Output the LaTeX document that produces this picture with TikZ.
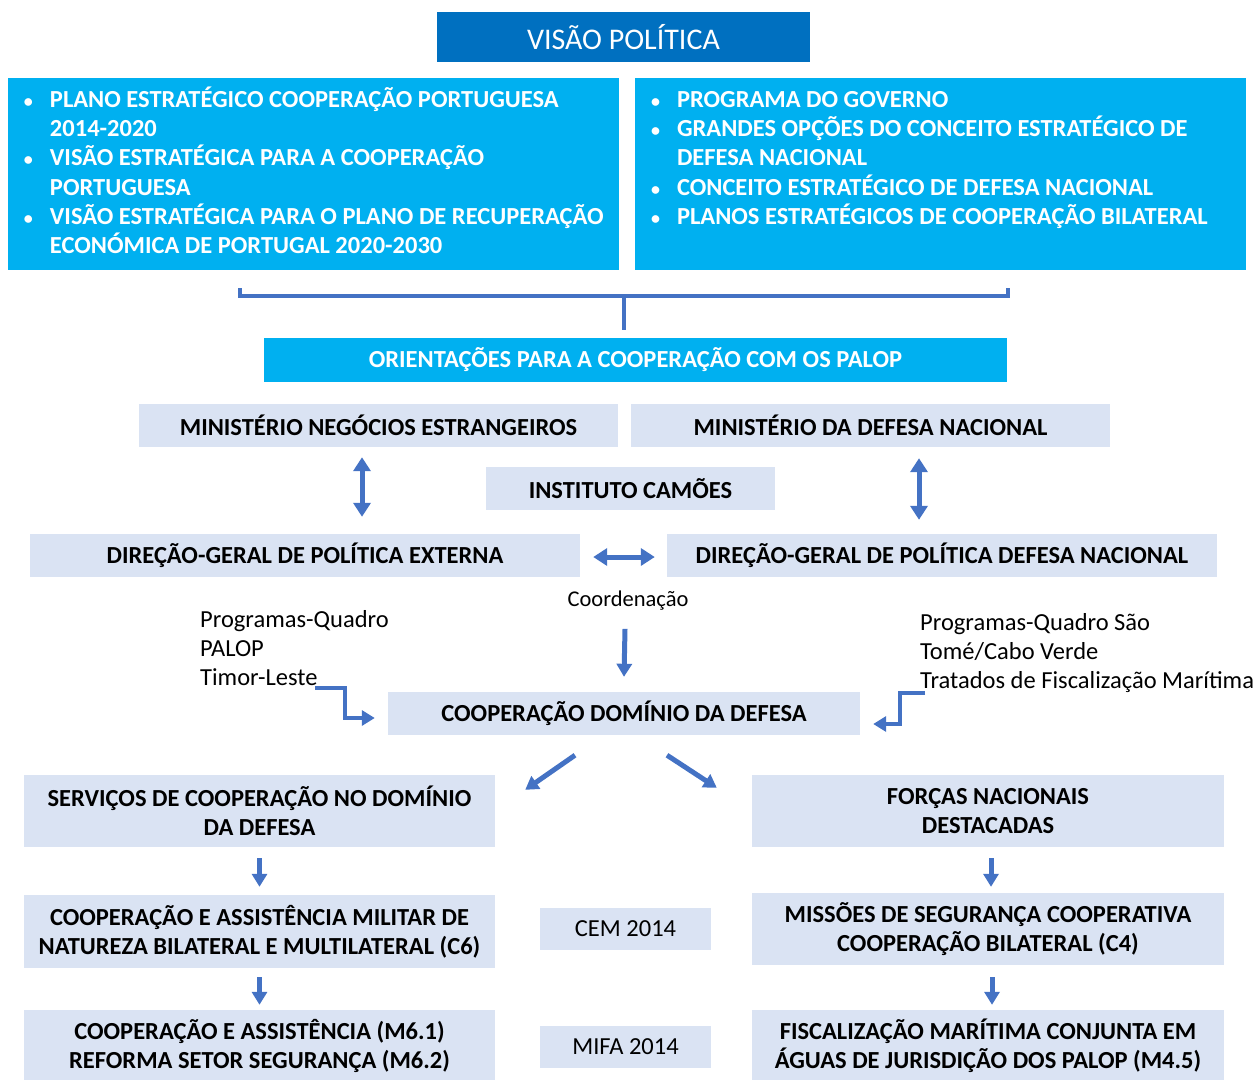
\documentclass[tikz,border=0pt]{standalone}
\usepackage{fontspec}
\setmainfont{Carlito}
\usepackage{tikz}
\usetikzlibrary{arrows.meta, positioning, calc}

\definecolor{visaoblue}{HTML}{0070C0}
\definecolor{planocyan}{HTML}{00B0F0}
\definecolor{orgfill}{HTML}{DAE3F3}
\definecolor{linkblue}{HTML}{4472C4}

\newcommand{\bitem}{\par\noindent\hangindent=27pt\hangafter=1\makebox[27pt][l]{\hspace{1pt}\fontsize{18}{18}\selectfont\textbullet}\strut}

\begin{document}
\begin{tikzpicture}[x=1pt, y=-1pt,
    visaobox/.style={fill=visaoblue, text=white, inner sep=0, font=\fontsize{30}{36}\selectfont},
    planobox/.style={fill=planocyan, text=white, inner sep=0, font=\bfseries\fontsize{24.5}{29.2}\selectfont},
    orgbox/.style={fill=orgfill, inner sep=0, align=center, font=\bfseries\fontsize{24.5}{29}\selectfont},
    yearbox/.style={fill=orgfill, inner sep=0, font=\fontsize{24.5}{29}\selectfont},
    note/.style={inner sep=0, align=left, font=\fontsize{24.5}{29}\selectfont},
    link/.style={draw=linkblue, line width=5pt, -{Triangle[length=13pt,width=15pt]}},
    twoway/.style={draw=linkblue, line width=5pt, {Triangle[length=14pt,width=17pt]}-{Triangle[length=14pt,width=17pt]}},
    brace/.style={draw=linkblue, line width=4.5pt}]
  \useasboundingbox (0,0) rectangle (1257,1079);

  \node[visaobox, minimum width=373, minimum height=50] (visao) at (623.5,37) {VISÃO POLÍTICA};

  \node[planobox, minimum width=611, minimum height=192] (plano) at (313.5,174) {\parbox[c][174pt][t]{581pt}{\raggedright\lineskiplimit=-20pt
      \bitem PLANO ESTRATÉGICO COOPERAÇÃO PORTUGUESA\newline 2014-2020
      \bitem VISÃO ESTRATÉGICA PARA A COOPERAÇÃO\newline PORTUGUESA
      \bitem VISÃO ESTRATÉGICA PARA O PLANO DE RECUPERAÇÃO\newline ECONÓMICA DE PORTUGAL 2020-2030}};
  \node[planobox, minimum width=611, minimum height=192] (governo) at (940.5,174) {\parbox[c][174pt][t]{581pt}{\raggedright\lineskiplimit=-20pt
      \bitem PROGRAMA DO GOVERNO
      \bitem GRANDES OPÇÕES DO CONCEITO ESTRATÉGICO DE\newline DEFESA NACIONAL
      \bitem CONCEITO ESTRATÉGICO DE DEFESA NACIONAL
      \bitem PLANOS ESTRATÉGICOS DE COOPERAÇÃO BILATERAL}};

  \node[planobox, minimum width=743, minimum height=44] (orient) at (635.5,360) {ORIENTAÇÕES PARA A COOPERAÇÃO COM OS PALOP};

  \node[orgbox, minimum width=479, minimum height=43] (mne) at (378.5,425.5) {MINISTÉRIO NEGÓCIOS ESTRANGEIROS};
  \node[orgbox, minimum width=479, minimum height=43] (mdn) at (870.5,425.5) {MINISTÉRIO DA DEFESA NACIONAL};
  \node[orgbox, minimum width=289, minimum height=43] (camoes) at (630.5,488.5) {INSTITUTO CAMÕES};
  \node[orgbox, minimum width=550, minimum height=43] (dgpe) at (305,555.5) {DIREÇÃO-GERAL DE POLÍTICA EXTERNA};
  \node[orgbox, minimum width=550, minimum height=43] (dgpdn) at (942,555.5) {DIREÇÃO-GERAL DE POLÍTICA DEFESA NACIONAL};

  \node[note, font=\fontsize{22.5}{27}\selectfont] (coord) at (628,601) {Coordenação};
  \node[note, anchor=north west] (pqleft) at (200,610) {Programas-Quadro\\PALOP\\Timor-Leste};
  \node[note, anchor=north west] (pqright) at (920,613) {Programas-Quadro São\\Tomé/Cabo Verde\\Tratados de Fiscalização Marítima};

  \node[orgbox, minimum width=472, minimum height=43] (coop) at (624,713.5) {COOPERAÇÃO DOMÍNIO DA DEFESA};

  \node[orgbox, minimum width=471, minimum height=72] (servicos) at (259.5,811) {SERVIÇOS DE COOPERAÇÃO NO DOMÍNIO\\DA DEFESA};
  \node[orgbox, minimum width=472, minimum height=72] (forcas) at (988,811) {FORÇAS NACIONAIS\\DESTACADAS};
  \node[orgbox, minimum width=471, minimum height=73] (militar) at (259.5,931.5) {COOPERAÇÃO E ASSISTÊNCIA MILITAR DE\\NATUREZA BILATERAL E MULTILATERAL (C6)};
  \node[orgbox, minimum width=472, minimum height=72] (missoes) at (988,929) {MISSÕES DE SEGURANÇA COOPERATIVA\\COOPERAÇÃO BILATERAL (C4)};
  \node[orgbox, minimum width=471, minimum height=72] (reforma) at (259.5,1046) {COOPERAÇÃO E ASSISTÊNCIA (M6.1)\\REFORMA SETOR SEGURANÇA (M6.2)};
  \node[orgbox, minimum width=472, minimum height=72] (fiscal) at (988,1046) {FISCALIZAÇÃO MARÍTIMA CONJUNTA EM\\ÁGUAS DE JURISDIÇÃO DOS PALOP (M4.5)};
  \node[yearbox, minimum width=171, minimum height=42] (cem) at (625.5,929) {CEM 2014};
  \node[yearbox, minimum width=171, minimum height=42] (mifa) at (625.5,1047) {MIFA 2014};

  % chaveta sob as duas caixas
  \coordinate (bracemid) at (624,296);
  \draw[brace] (240,288) -- (240,296) -- (1008,296) -- (1008,288);
  \draw[brace] (bracemid) -- ($(orient.north -| bracemid)+(0,-8)$);

  \draw[twoway] ([xshift=-16.5pt,yshift=-10pt]mne.south) -- ([xshift=57pt,yshift=17pt]dgpe.north);
  \draw[twoway] ([xshift=48.5pt,yshift=-11pt]mdn.south) -- ([xshift=-23pt,yshift=14pt]dgpdn.north);
  \draw[twoway] ([xshift=13pt,yshift=-1.5pt]dgpe.east) -- ([xshift=-12pt,yshift=-1.5pt]dgpdn.west);

  \draw[link] ([xshift=-3pt,yshift=-18pt]coord.south) -- ([yshift=15pt]coop.north);

  \coordinate (leftin) at (315,688);
  \coordinate (rightin) at (925,693);
  \draw[link, line width=4pt] (leftin) -- ++(30,0) |- ([xshift=-13pt,yshift=-4.5pt]coop.west);
  \draw[link, line width=4pt] (rightin) -- ++(-25,0) |- ([xshift=13pt,yshift=-10.5pt]coop.east);

  \draw[link] ([xshift=-49pt,yshift=-20pt]coop.south) -- ([xshift=30pt,yshift=-15pt]servicos.north east);
  \draw[link] ([xshift=43pt,yshift=-20pt]coop.south) -- ([xshift=-35pt,yshift=-13pt]forcas.north west);

  \draw[link] ([yshift=-11pt]servicos.south) -- ([yshift=8pt]militar.north);
  \draw[link] ([yshift=-9pt]militar.south) -- ([yshift=5pt]reforma.north);
  \draw[link] ([xshift=3pt,yshift=-11pt]forcas.south) -- ([xshift=3pt,yshift=6pt]missoes.north);
  \draw[link] ([xshift=4pt,yshift=-12pt]missoes.south) -- ([xshift=4pt,yshift=5pt]fiscal.north);
\end{tikzpicture}
\end{document}
